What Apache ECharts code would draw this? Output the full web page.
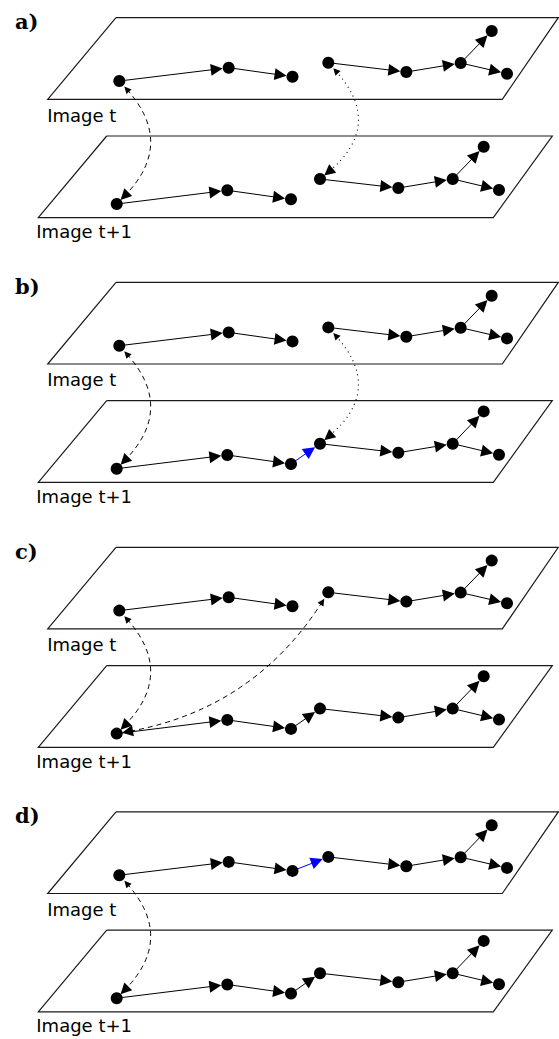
<!DOCTYPE html>
<html><head><meta charset="utf-8">
<script src="https://cdn.jsdelivr.net/npm/echarts@6/dist/echarts.min.js"></script>
<style>html,body{margin:0;padding:0;background:#fff}#c{width:559px;height:1039px}</style>
</head><body><div id="c"></div>
<script>
// ---- data ----
const panelLabels = ['a)', 'b)', 'c)', 'd)'];
const panelShift = [0, 264.7, 529.6, 794.2];
const planeLabels = ['Image t', 'Image t+1'];
const planeTop = [[116, 17.7], [558.3, 17.7], [502.3, 99.3], [47.7, 99.3]];
const planeBottom = [[106.7, 136], [552.3, 136], [493.3, 217.7], [38.3, 217.7]];
const nodesTop = [[119.3, 81], [228.7, 67.7], [292.5, 76.7], [328.3, 62.7], [406.3, 72], [460.7, 63], [491.7, 31], [507, 73.7]];
const nodesBottom = [[116.7, 204], [227.3, 190.3], [291, 199.3], [320, 179], [398.3, 188], [452.7, 179], [483.7, 146.7], [499, 190]];
const baseEdges = [[0, 1], [1, 2], [3, 4], [4, 5], [5, 6], [5, 7]];
// [panel, plane(0 top,1 bottom), from, to, highlighted]
const extraEdges = [[1, 1, 2, 3, true], [2, 1, 2, 3, false], [3, 1, 2, 3, false], [3, 0, 2, 3, true]];
// [panel, fromPlane, fromNode, toPlane, toNode, style, curveness]
const links = [
  [0, 0, 0, 1, 0, 'dashed', 0.47],
  [0, 0, 3, 1, 3, 'dotted', 0.52],
  [1, 0, 0, 1, 0, 'dashed', 0.47],
  [1, 0, 3, 1, 3, 'dotted', 0.52],
  [2, 0, 0, 1, 0, 'dashed', 0.47],
  [2, 0, 3, 1, 0, 'dashed', 0.22],
  [3, 0, 0, 1, 0, 'dashed', 0.47]
];

// ---- layout constants ----
const R = 6, AL = 12, AW = 8;
const W = 559, H = 1039;

function nodePos(k, pl, i) {
  const p = (pl === 0 ? nodesTop : nodesBottom)[i];
  return [p[0], p[1] + panelShift[k]];
}
function moveToward(target, p, d) {
  const dx = target[0] - p[0], dy = target[1] - p[1];
  const len = Math.hypot(dx, dy);
  return [p[0] + dx / len * d, p[1] + dy / len * d];
}

const planeData = [];
const nodeData = [];
const textData = [];
const panelTextData = [];
panelShift.forEach((s, k) => {
  [planeTop, planeBottom].forEach((pl, j) => {
    planeData.push({ coords: pl.concat([pl[0]]).map(p => [p[0], p[1] + s]) });
    const bl = pl[3];
    const off = j === 0 ? [-0.5, 15.7] : [-2, 14];
    textData.push({ name: planeLabels[j], value: [bl[0] + off[0], bl[1] + off[1] + s] });
  });
  [0, 1].forEach(pl => {
    (pl === 0 ? nodesTop : nodesBottom).forEach((_, i) => nodeData.push(nodePos(k, pl, i)));
  });
  panelTextData.push({ name: panelLabels[k], value: [15, 21.5 + s] });
});

const blackEdges = [], blueEdges = [];
panelShift.forEach((s, k) => {
  [0, 1].forEach(pl => baseEdges.forEach(([a, b]) => {
    const A = nodePos(k, pl, a), B = nodePos(k, pl, b);
    blackEdges.push({ coords: [A, moveToward(A, B, R + AL / 2)] });
  }));
});
extraEdges.forEach(([k, pl, a, b, hl]) => {
  const A = nodePos(k, pl, a), B = nodePos(k, pl, b);
  (hl ? blueEdges : blackEdges).push({ coords: [A, moveToward(A, B, R + AL / 2)] });
});

const dashedLinks = [], dottedLinks = [];
links.forEach(([k, pa, a, pb, b, style, c]) => {
  const P1 = nodePos(k, pa, a), P2 = nodePos(k, pb, b);
  const cp = [(P1[0] + P2[0]) / 2 - (P1[1] - P2[1]) * c, (P1[1] + P2[1]) / 2 - (P2[0] - P1[0]) * c];
  const d = R + AL / 2 - 1;
  const Q1 = moveToward(cp, P1, d), Q2 = moveToward(cp, P2, d);
  const M = [(Q1[0] + Q2[0]) / 2, (Q1[1] + Q2[1]) / 2];
  const v = [Q2[1] - Q1[1], Q1[0] - Q2[0]];
  const c2 = ((cp[0] - M[0]) * v[0] + (cp[1] - M[1]) * v[1]) / (v[0] * v[0] + v[1] * v[1]);
  (style === 'dotted' ? dottedLinks : dashedLinks).push({ coords: [Q1, Q2], lineStyle: { curveness: c2 } });
});

const chart = echarts.init(document.getElementById('c'), null, { renderer: 'svg' });
chart.setOption({
  animation: false,
  backgroundColor: '#fff',
  grid: { left: 0, right: 0, top: 0, bottom: 0 },
  xAxis: { type: 'value', min: 0, max: W, show: false },
  yAxis: { type: 'value', min: 0, max: H, inverse: true, show: false },
  series: [
    {
      name: 'planes', type: 'lines', coordinateSystem: 'cartesian2d', polyline: true, silent: true, z: 1,
      symbol: 'none', lineStyle: { color: '#1a1a1a', width: 1.2, opacity: 1 }, data: planeData
    },
    {
      name: 'edges', type: 'lines', coordinateSystem: 'cartesian2d', silent: true, z: 2,
      symbol: ['none', 'triangle'], symbolSize: [AW, AL],
      lineStyle: { color: '#000', width: 1, opacity: 1 }, data: blackEdges
    },
    {
      name: 'new edges', type: 'lines', coordinateSystem: 'cartesian2d', silent: true, z: 2,
      symbol: ['none', 'triangle'], symbolSize: [AW, AL],
      lineStyle: { color: '#0000ff', width: 1, opacity: 1 }, data: blueEdges
    },
    {
      name: 'dashed links', type: 'lines', coordinateSystem: 'cartesian2d', silent: true, z: 2,
      symbol: ['triangle', 'triangle'], symbolSize: [7, 11],
      lineStyle: { color: '#000', width: 1, type: [5, 4], opacity: 1 }, data: dashedLinks
    },
    {
      name: 'dotted links', type: 'lines', coordinateSystem: 'cartesian2d', silent: true, z: 2,
      symbol: ['triangle', 'triangle'], symbolSize: [7, 11],
      lineStyle: { color: '#000', width: 1.1, type: [1, 4], opacity: 1 }, data: dottedLinks
    },
    {
      name: 'nodes', type: 'scatter', silent: true, z: 3, symbol: 'circle', symbolSize: 2 * R,
      itemStyle: { color: '#000', opacity: 1 }, data: nodeData
    },
    {
      name: 'plane labels', type: 'scatter', silent: true, z: 4, symbolSize: 0, data: textData,
      itemStyle: { opacity: 1 },
      label: {
        show: true, formatter: '{b}', position: [0, 0], align: 'left', verticalAlign: 'middle',
        fontFamily: 'DejaVu Sans', fontSize: 18, color: '#000', opacity: 1
      }
    },
    {
      name: 'panel labels', type: 'scatter', silent: true, z: 4, symbolSize: 0, data: panelTextData,
      itemStyle: { opacity: 1 },
      label: {
        show: true, formatter: '{b}', position: [0, 0], align: 'left', verticalAlign: 'middle',
        fontFamily: 'DejaVu Serif', fontWeight: 'bold', fontSize: 21, color: '#000', opacity: 1
      }
    }
  ]
});
</script>
</body></html>
